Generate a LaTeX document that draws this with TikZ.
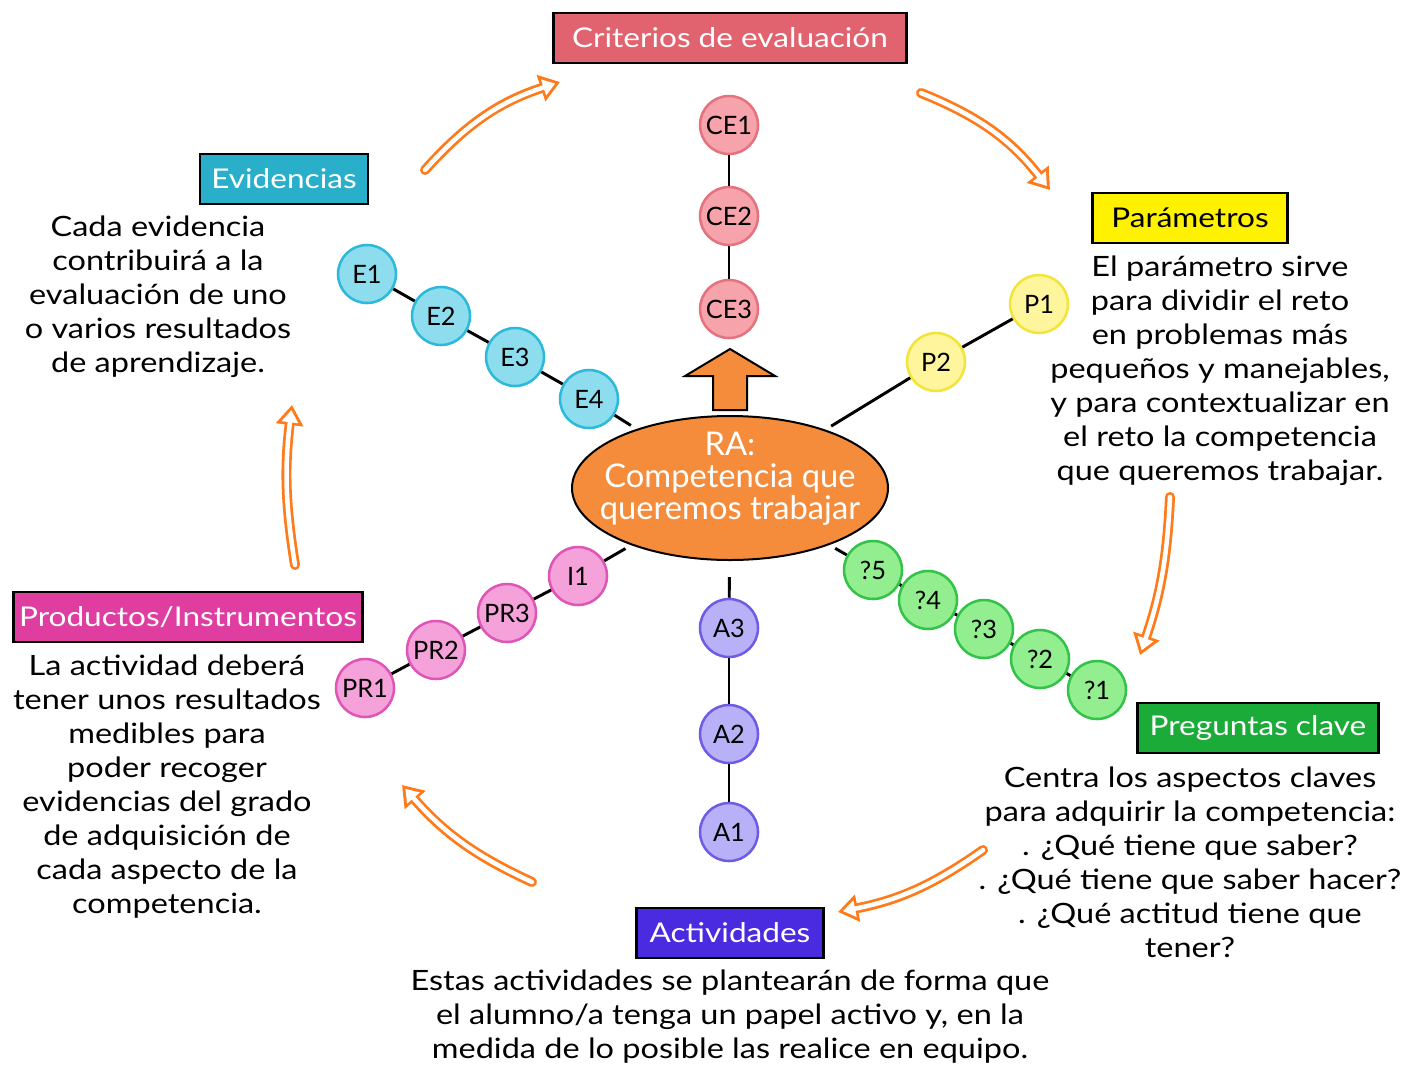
\documentclass[tikz,border=0pt]{standalone}
\usepackage{fontspec}
\setmainfont{Lato}[FakeStretch=1.16]
\newfontfamily\plainlato{Lato}
\usetikzlibrary{arrows.meta,positioning,shapes.geometric}
\definecolor{cCrit}{HTML}{E0636F}
\definecolor{cCritL}{HTML}{F7A3AC}
\definecolor{cCritD}{HTML}{E5737F}
\definecolor{cEvid}{HTML}{2AAFCB}
\definecolor{cEvidL}{HTML}{8DDDEE}
\definecolor{cEvidD}{HTML}{2DB9DA}
\definecolor{cPara}{HTML}{FFF200}
\definecolor{cParaL}{HTML}{FFF59D}
\definecolor{cParaD}{HTML}{F3E43A}
\definecolor{cProd}{HTML}{E03DA0}
\definecolor{cProdL}{HTML}{F4A2D9}
\definecolor{cProdD}{HTML}{E055B8}
\definecolor{cPreg}{HTML}{1AAB38}
\definecolor{cPregL}{HTML}{92EE8E}
\definecolor{cPregD}{HTML}{33C24A}
\definecolor{cActi}{HTML}{4A2BE0}
\definecolor{cActiL}{HTML}{B9B1F7}
\definecolor{cActiD}{HTML}{6C5CE6}
\definecolor{cRA}{HTML}{F58C3C}
\definecolor{cArr}{HTML}{FF7A1A}

\begin{document}
\begin{tikzpicture}[
  x=0.75pt,y=-0.75pt,
  font=\fontsize{21}{25.5}\selectfont,
  hdr/.style ={draw=black,line width=2.2pt,minimum height=37.5pt,inner xsep=4pt,text=white,
               font=\fontsize{20.4}{25}\selectfont},
  txt/.style ={align=center,inner sep=0pt},
  bub/.style ={circle,line width=1.9pt,minimum size=43.5pt,inner sep=0pt,
               font=\plainlato\fontsize{19}{22}\selectfont},
  bce/.style ={bub,draw=cCritD,fill=cCritL},
  bev/.style ={bub,draw=cEvidD,fill=cEvidL},
  bpa/.style ={bub,draw=cParaD,fill=cParaL},
  bpg/.style ={bub,draw=cPregD,fill=cPregL},
  bac/.style ={bub,draw=cActiD,fill=cActiL},
  bpr/.style ={bub,draw=cProdD,fill=cProdL},
  ln/.style  ={line width=2.2pt},
  hout/.style={draw=cArr,line width=7.5pt,line cap=round,
               -{Triangle[length=15pt 0 0,width=20pt 0 0]}},
  hin/.style ={draw=white,line width=3.4pt,line cap=round,shorten >=3.8pt,
               -{Triangle[length=9.2pt 0 0,width=12pt 0 0]}},
]
\useasboundingbox (0,0) rectangle (1405,1068);

% centre
\node[ellipse,draw=black,line width=1.5pt,fill=cRA,minimum width=237pt,minimum height=108pt] (ra) at (730,488) {};
\node[txt,text=white,font=\plainlato\fontsize{24.5}{24}\selectfont] (ratxt) at ([yshift=6.75pt]ra.center)
  {RA:\\Competencia que\\queremos trabajar};
\draw[line width=1.5pt,fill=cRA] (713,410) -- (713,376) -- (685,376) -- (730,349) -- (775,376)
  -- (747,376) -- (747,410) -- cycle;

% headers
\node[hdr,fill=cCrit,minimum width=265pt] (crit) at (730,38) {Criterios de evaluación};
\node[hdr,fill=cEvid,minimum width=126pt] (evid) at (284,179) {Evidencias};
\node[hdr,fill=cPara,text=black,minimum width=146pt] (para) at (1190,218) {Parámetros};
\node[hdr,fill=cProd,minimum width=262pt] (prod) at (188,617) {Productos/Instrumentos};
\node[hdr,fill=cPreg,minimum width=181pt] (preg) at (1258,728) {Preguntas clave};
\node[hdr,fill=cActi,minimum width=140pt] (acti) at (730,933) {Actividades};

% texts
\node[txt] (evidtxt) at (158,297)
  {Cada evidencia\\contribuirá a la\\evaluación de uno\\o varios resultados\\de aprendizaje.};
\node[txt] (paratxt) at (1220,371)
  {El parámetro sirve\\para dividir el reto\\en problemas más\\pequeños y manejables,\\y para contextualizar en\\el reto la competencia\\que queremos trabajar.};
\node[txt] (prodtxt) at (167,787)
  {La actividad deberá\\tener unos resultados\\medibles para\\poder recoger\\evidencias del grado\\de adquisición de\\cada aspecto de la\\competencia.};
\node[txt] (pregtxt) at (1190,862)
  {Centra los aspectos claves\\para adquirir la competencia:\\. ¿Qué tiene que saber?\\. ¿Qué tiene que saber hacer?\\. ¿Qué actitud tiene que\\tener?};
\node[txt] (actitxt) at (730,1017)
  {Estas actividades se plantearán de forma que\\el alumno/a tenga un papel activo y, en la\\medida de lo posible las realice en equipo.};

% bubbles
\node[bce] (ce1) at (729,125) {CE1};
\node[bce] (ce2) at (729,216) {CE2};
\node[bce] (ce3) at (729,309) {CE3};
\node[bev] (e1) at (367,274) {E1};
\node[bev] (e2) at (441,316) {E2};
\node[bev] (e3) at (515,357) {E3};
\node[bev] (e4) at (589,399) {E4};
\node[bpa] (p1) at (1039,304) {P1};
\node[bpa] (p2) at (936,362) {P2};
\node[bpg] (q5) at (873,570) {?5};
\node[bpg] (q4) at (928,600) {?4};
\node[bpg] (q3) at (984,629) {?3};
\node[bpg] (q2) at (1040,659) {?2};
\node[bpg] (q1) at (1097,690) {?1};
\node[bac] (a3) at (729,628) {A3};
\node[bac] (a2) at (729,734) {A2};
\node[bac] (a1) at (729,832) {A1};
\node[bpr] (i1) at (578,576) {I1};
\node[bpr] (pr3) at (507,613) {PR3};
\node[bpr] (pr2) at (436,650) {PR2};
\node[bpr] (pr1) at (365,688) {PR1};

\foreach \a/\b in {ce1/ce2,ce2/ce3,e1/e2,e2/e3,e3/e4,p1/p2,q1/q2,q2/q3,q3/q4,q4/q5,
                   a1/a2,a2/a3,pr1/pr2,pr2/pr3,pr3/i1}
  \draw[ln] (\a) -- (\b);
\foreach \a/\g in {e4/5,p2/5,q5/5,i1/5,a3/12}
  \draw[ln,shorten >=\g pt] (\a) -- (ra);

% cycle arrows
\coordinate (h1s) at (425,170); \coordinate (h1e) at (560,82);
\coordinate (h2s) at (921,93);  \coordinate (h2e) at (1050,190);
\coordinate (h3s) at (1170,497); \coordinate (h3e) at (1140,655);
\coordinate (h4s) at (983,850); \coordinate (h4e) at (838,912);
\coordinate (h5s) at (532,882); \coordinate (h5e) at (402,785);
\coordinate (h6s) at (295,565); \coordinate (h6e) at (292,405);
\foreach \s/\e/\b in {h1s/h1e/15,h2s/h2e/15,h3s/h3e/8,h4s/h4e/12,h5s/h5e/12,h6s/h6e/8}
  {\draw[hout] (\s) to[bend left=\b] (\e);
   \draw[hin]  (\s) to[bend left=\b] (\e);}
\end{tikzpicture}
\end{document}
